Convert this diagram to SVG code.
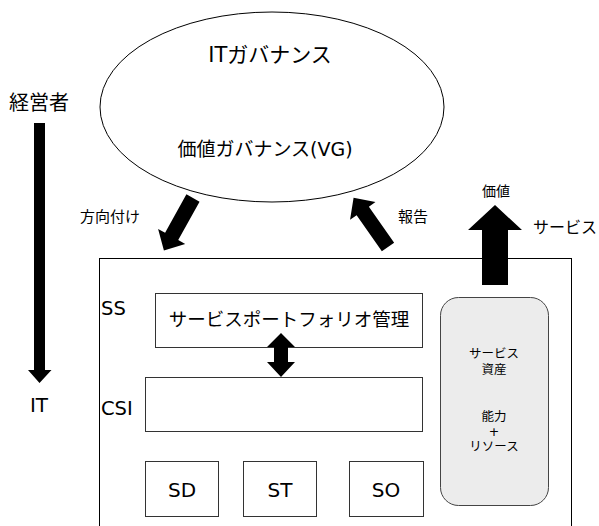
<svg xmlns="http://www.w3.org/2000/svg" width="599" height="526" viewBox="0 0 599 526">
<style>
  text { font-family: "DejaVu Sans", "Noto Sans CJK JP", sans-serif; fill: #000; }
  .box { fill: #fff; stroke: #333; stroke-width: 1; }
  .arrow { fill: #000; stroke: none; }
</style>
<rect width="599" height="526" fill="#fff"/>
<g id="it-governance">
  <ellipse cx="272" cy="107" rx="172" ry="95" fill="#fff" stroke="#000" stroke-width="1"/>
  <text x="270" y="62" font-size="21" text-anchor="middle">ITガバナンス</text>
  <text x="265" y="156" font-size="19" text-anchor="middle">価値ガバナンス(VG)</text>
</g>
<g id="axis">
  <text x="39" y="110" font-size="20" text-anchor="middle">経営者</text>
  <polygon class="arrow" points="34,123 45,123 45,370 51.5,370 39.5,383 28,370 34,370"/>
  <text x="39" y="412" font-size="20" text-anchor="middle">IT</text>
</g>
<g id="service-management">
  <rect x="99.5" y="258.5" width="472" height="280" fill="none" stroke="#000" stroke-width="1"/>
  <text x="101" y="315" font-size="19.5">SS</text>
  <text x="101" y="415" font-size="19.5">CSI</text>
</g>
<g id="portfolio">
  <rect class="box" x="155.5" y="293.5" width="267" height="54"/>
  <text x="289" y="326" font-size="18.5" text-anchor="middle">サービスポートフォリオ管理</text>
</g>
<g id="csi">
  <rect class="box" x="145.5" y="377.5" width="277" height="54"/>
</g>
<g id="sd">
  <rect class="box" x="145.5" y="461.5" width="73" height="55"/>
  <text x="182" y="497" font-size="20" text-anchor="middle">SD</text>
</g>
<g id="st">
  <rect class="box" x="243.5" y="461.5" width="73" height="55"/>
  <text x="280" y="497" font-size="20" text-anchor="middle">ST</text>
</g>
<g id="so">
  <rect class="box" x="349.5" y="461.5" width="74" height="55"/>
  <text x="386" y="497" font-size="20" text-anchor="middle">SO</text>
</g>
<g id="service-assets">
  <rect x="440.5" y="297.5" width="108" height="208" rx="18" ry="18" fill="#ececec" stroke="#444" stroke-width="1"/>
  <g font-size="12.5" text-anchor="middle">
    <text x="494" y="358">サービス</text>
    <text x="494" y="374">資産</text>
    <text x="494" y="421">能力</text>
    <text x="494" y="436">+</text>
    <text x="494" y="451">リソース</text>
  </g>
</g>
<g id="connectors">
  <polygon class="arrow" transform="translate(193,198) rotate(119)" points="0,-7.5 44,-7.5 44,-15.5 60,0 44,15.5 44,7.5 0,7.5"/>
  <polygon class="arrow" transform="translate(388,247) rotate(-125)" points="0,-7.5 44,-7.5 44,-15.5 60,0 44,15.5 44,7.5 0,7.5"/>
  <polygon class="arrow" points="482,285 482,230 468,230 495,205 522,230 508,230 508,285"/>
  <polygon class="arrow" points="281,333 295,347 288,347 288,362 295,362 281,377 267,362 274,362 274,347 267,347"/>
</g>
<g id="labels">
  <text x="80" y="222" font-size="15">方向付け</text>
  <text x="398" y="222" font-size="15">報告</text>
  <text x="496" y="196" font-size="14" text-anchor="middle">価値</text>
  <text x="533" y="233" font-size="16">サービス</text>
</g>
</svg>
